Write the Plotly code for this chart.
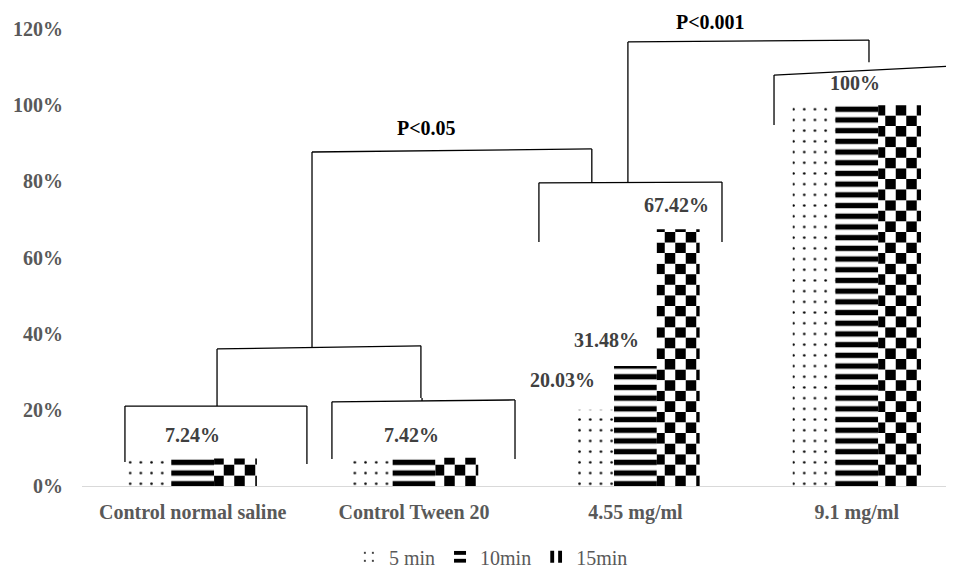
import math
import plotly.graph_objects as go

# ---- data ----
categories = ["Control normal saline", "Control Tween 20", "4.55 mg/ml", "9.1 mg/ml"]
series_names = ["5 min", "10min", "15min"]
v5 = [7.24, 7.42, 20.03, 100]
v10 = [7.24, 7.42, 31.48, 100]
v15 = [7.24, 7.42, 67.42, 100]
y_ticks = [0, 20, 40, 60, 80, 100, 120]
y_ticklabels = ["0%", "20%", "40%", "60%", "80%", "100%", "120%"]
value_labels = ["7.24%", "7.42%", "20.03%", "31.48%", "67.42%", "100%"]
p_labels = ["P<0.05", "P<0.001"]

FONT = "Liberation Serif"
GRAY = "#595959"
DARK = "#404040"
YMAX = 120

fig = go.Figure()
xi = list(range(len(categories)))

fig.add_trace(go.Bar(
    x=xi, y=v5, name=series_names[0], offsetgroup="a",
    marker=dict(color="white", line=dict(width=0),
                pattern=dict(shape=".", size=10.7, solidity=0.045, fgopacity=1,
                             fgcolor="black", bgcolor="white")),
))
fig.add_trace(go.Bar(
    x=xi, y=v10, name=series_names[1], offsetgroup="b",
    marker=dict(color="white", line=dict(width=0),
                pattern=dict(shape="-", size=10.7, solidity=0.5, fgopacity=1,
                             fgcolor="black", bgcolor="white")),
))

# checkerboard for 15min: alternate rows of inverted vertical stripes
CELL = 2.78
ax, ab, ah, bx, bb, bh = [], [], [], [], [], []
for i, v in zip(xi, v15):
    n = math.ceil(v / CELL - 1e-9)
    for k in range(n):
        base = k * CELL
        h = min(CELL, v - base)
        if k % 2 == 0:
            ax.append(i); ab.append(base); ah.append(h)
        else:
            bx.append(i); bb.append(base); bh.append(h)

fig.add_trace(go.Bar(
    x=ax, y=ah, base=ab, name=series_names[2], offsetgroup="c", legendgroup="c",
    marker=dict(color="white", line=dict(width=0),
                pattern=dict(shape="|", size=21, solidity=0.5, fgopacity=1,
                             fgcolor="black", bgcolor="white")),
))
fig.add_trace(go.Bar(
    x=bx, y=bh, base=bb, name=series_names[2], offsetgroup="c", legendgroup="c",
    showlegend=False,
    marker=dict(color="black", line=dict(width=0),
                pattern=dict(shape="|", size=21, solidity=0.5, fgopacity=1,
                             fgcolor="white", bgcolor="black")),
))

# ---- brackets ----
def seg(x0, y0, x1, y1):
    fig.add_shape(type="line", xref="x", yref="y", x0=x0, y0=y0, x1=x1, y1=y1,
                  line=dict(color="black", width=1.3))

# group 1 bracket
seg(-0.306, 6.3, -0.306, 21.0); seg(-0.306, 21.0, 0.516, 21.0); seg(0.516, 21.0, 0.516, 5.8)
# group 2 bracket
seg(0.629, 7.1, 0.629, 22.1); seg(0.629, 22.1, 1.456, 22.6); seg(1.456, 22.6, 1.456, 7.1)
# combining 1 & 2
seg(0.110, 21.0, 0.110, 36.0); seg(1.036, 22.3, 1.036, 23.1)
seg(0.110, 36.0, 1.031, 36.8); seg(1.031, 36.8, 1.031, 23.1)
# P<0.05 bracket
seg(0.539, 36.4, 0.539, 87.7); seg(0.539, 87.7, 1.803, 88.5); seg(1.803, 88.5, 1.803, 79.8)
# group 3 bracket
seg(1.564, 64.1, 1.564, 79.6); seg(1.564, 79.6, 2.391, 79.8); seg(2.391, 79.8, 2.391, 64.1)
# P<0.001 bracket
seg(1.966, 79.7, 1.966, 116.6); seg(1.966, 116.6, 3.055, 117.1); seg(3.055, 117.1, 3.055, 111.3)
# group 4 bracket
seg(2.626, 94.8, 2.626, 107.9); seg(2.626, 107.9, 3.45, 110.3)

# ---- labels ----
label_pos = [(0.0, 13.4), (0.99, 13.4), (1.672, 27.8), (1.871, 38.3), (2.187, 73.8), (2.991, 105.8)]
for txt, (x, y) in zip(value_labels, label_pos):
    fig.add_annotation(x=x, y=y / YMAX, xref="x", yref="paper", text=txt, showarrow=False,
                       xanchor="center", yanchor="middle",
                       font=dict(family=FONT, size=20, color=DARK, weight="bold"))
p_pos = [(1.058, 94.0), (2.341, 121.8)]
for txt, (x, y) in zip(p_labels, p_pos):
    fig.add_annotation(x=x, y=y / YMAX, xref="x", yref="paper", text=txt, showarrow=False,
                       xanchor="center", yanchor="middle",
                       font=dict(family=FONT, size=20, color="black", weight="bold"))

# page body has an 8px margin, so the figure is sized to the visible area
fig.update_layout(
    width=946, height=563,
    margin=dict(l=74, r=2, t=21, b=85, autoexpand=False),
    paper_bgcolor="white", plot_bgcolor="white",
    barmode="group", bargap=0.42, bargroupgap=0,
    showlegend=True,
    legend=dict(orientation="h", x=0.47, xanchor="center", y=-0.155, yanchor="middle",
                font=dict(family=FONT, size=20, color=GRAY), traceorder="normal",
                itemwidth=30),
    xaxis=dict(tickmode="array", tickvals=xi, ticktext=categories,
               range=[-0.5, 3.43], showgrid=False, zeroline=False,
               showline=True, linecolor="#d9d9d9", linewidth=1.3, ticks="",
               ticklabelstandoff=8, automargin=False,
               tickfont=dict(family=FONT, size=20, color=GRAY, weight="bold")),
    yaxis=dict(range=[0, YMAX], tickvals=y_ticks, ticktext=y_ticklabels,
               showgrid=False, zeroline=False, showline=False, ticks="",
               ticklabelstandoff=18, automargin=False,
               tickfont=dict(family=FONT, size=20, color=GRAY, weight="bold")),
)

fig.write_html("out.html")
